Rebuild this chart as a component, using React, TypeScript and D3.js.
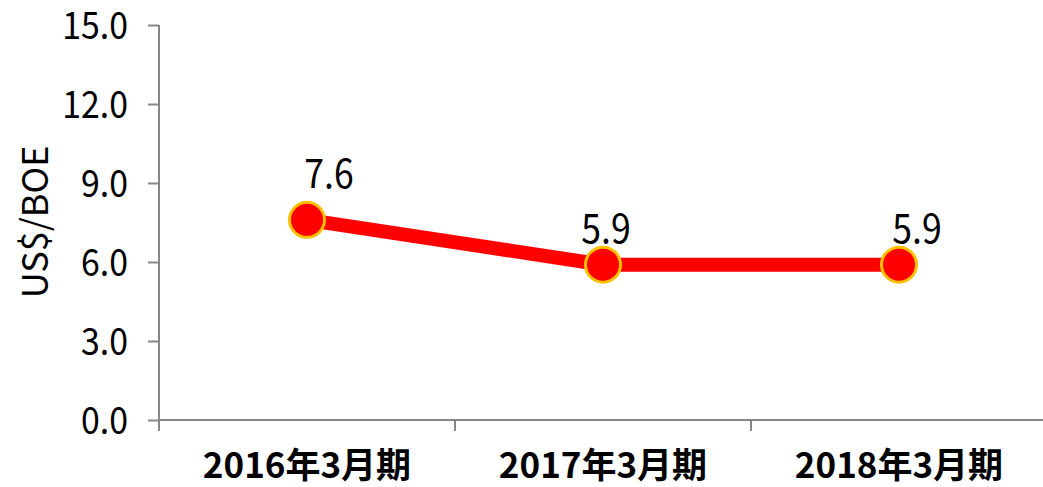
import React, { useEffect, useRef } from "react";
import * as d3 from "d3";

const categories = ["2016年3月期", "2017年3月期", "2018年3月期"];
const values = [7.6, 5.9, 5.9];
const yTicks = [0, 3, 6, 9, 12, 15];
const yLabel = "US$/BOE";

const FONT = "'Noto Sans CJK JP', sans-serif";
const SX = 0.89; // 細めの字幅に寄せる

export default function App() {
  const svgRef = useRef<SVGSVGElement>(null);

  useEffect(() => {
    if (!svgRef.current) return;
    const width = 1043;
    const height = 487;
    const margin = { top: 25, right: 0, bottom: 67, left: 159 };
    const innerWidth = width - margin.left - margin.right;
    const innerHeight = height - margin.top - margin.bottom;

    const svg = d3.select(svgRef.current);
    svg.selectAll("*").remove();
    svg.attr("width", width).attr("height", height);

    const g = svg
      .append("g")
      .attr("transform", `translate(${margin.left},${margin.top})`);

    const x = d3.scaleBand().domain(categories).range([0, 888]);
    const y = d3.scaleLinear().domain([0, 15]).range([innerHeight, 0]);

    // y軸
    const yAxis = g
      .append("g")
      .call(
        d3
          .axisLeft(y)
          .tickValues(yTicks)
          .tickSize(11)
          .tickPadding(20)
          .tickFormat((d) => d3.format(".1f")(d as number))
      );
    yAxis
      .select(".domain")
      .attr("stroke", "#868686")
      .attr("stroke-width", 2)
      .attr("d", `M0,0V${innerHeight + 11}`);
    yAxis.selectAll(".tick line").attr("stroke", "#868686").attr("stroke-width", 2);
    yAxis
      .selectAll(".tick text")
      .attr("fill", "#000")
      .attr("x", -31 / SX)
      .attr("transform", `scale(${SX},1)`)
      .style("font-family", FONT)
      .style("font-size", "38px")
      .attr("dy", "0.36em");

    // x軸
    g.append("line")
      .attr("x1", 0)
      .attr("x2", innerWidth)
      .attr("y1", innerHeight)
      .attr("y2", innerHeight)
      .attr("stroke", "#868686")
      .attr("stroke-width", 2);
    categories.forEach((c, i) => {
      if (i === 0) return;
      const bx = x(c) as number;
      g.append("line")
        .attr("x1", bx)
        .attr("x2", bx)
        .attr("y1", innerHeight)
        .attr("y2", innerHeight + 11)
        .attr("stroke", "#868686")
        .attr("stroke-width", 2);
    });
    g.selectAll(".xlab")
      .data(categories)
      .enter()
      .append("text")
      .attr("class", "xlab")
      .attr("x", (d) => (x(d) as number) + x.bandwidth() / 2)
      .attr("y", innerHeight + 58)
      .attr("text-anchor", "middle")
      .style("font-family", FONT)
      .style("font-size", "35px")
      .style("font-weight", "bold")
      .text((d) => d);

    // 折れ線
    const cx = (i: number) => (x(categories[i]) as number) + x.bandwidth() / 2;
    const line = d3
      .line<number>()
      .x((_, i) => cx(i))
      .y((d) => y(d));
    g.append("path")
      .datum(values)
      .attr("fill", "none")
      .attr("stroke", "#FF0000")
      .attr("stroke-width", 14)
      .attr("d", line);

    g.selectAll(".dot")
      .data(values)
      .enter()
      .append("circle")
      .attr("cx", (_, i) => cx(i))
      .attr("cy", (d) => y(d))
      .attr("r", 17.5)
      .attr("fill", "#FF0000")
      .attr("stroke", "#FFC000")
      .attr("stroke-width", 3);

    // データラベル
    const labelDx = [22, 3, 18];
    const labelDy = [-32, -22, -22];
    g.selectAll(".dlab")
      .data(values)
      .enter()
      .append("text")
      .attr("transform", (d, i) => `translate(${cx(i) + labelDx[i]},${y(d) + labelDy[i]}) scale(${SX},1)`)
      .attr("text-anchor", "middle")
      .style("font-family", FONT)
      .style("font-size", "40px")
      .text((d) => d.toFixed(1));

    // y軸ラベル
    svg
      .append("text")
      .attr("transform", `translate(48,${222}) rotate(-90)`)
      .attr("text-anchor", "middle")
      .style("font-family", FONT)
      .style("font-size", "36px")
      .text(yLabel);
  }, []);

  return (
    <svg
      ref={svgRef}
      style={{ position: "absolute", left: 0, top: 0, display: "block" }}
    />
  );
}
